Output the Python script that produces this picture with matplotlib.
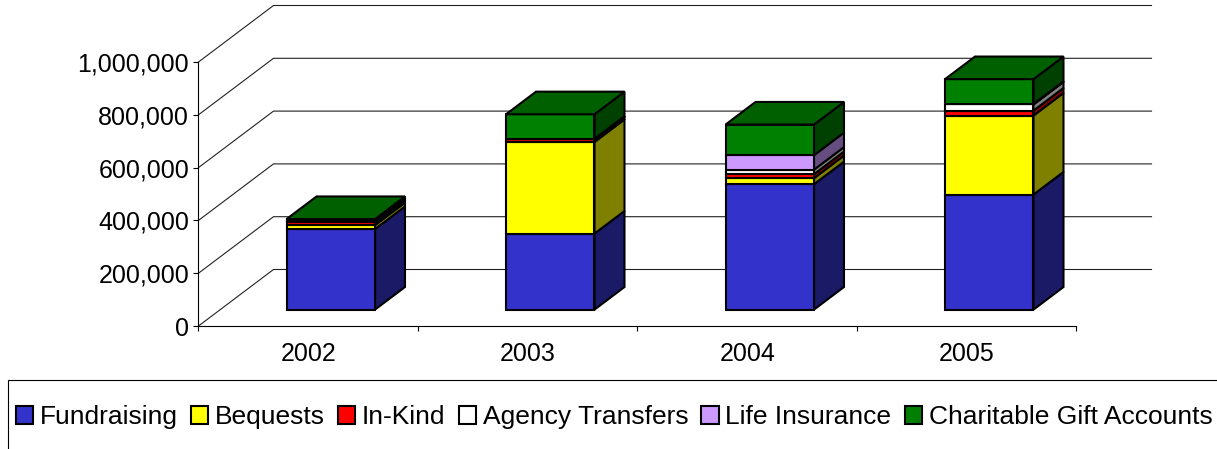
import matplotlib
matplotlib.use('Agg')
import matplotlib.pyplot as plt
from matplotlib.patches import Polygon, Rectangle, Patch

plt.rcParams['font.family'] = ['Liberation Sans', 'DejaVu Sans']

# Data
years = ['2002', '2003', '2004', '2005']
series_names = ['Fundraising', 'Bequests', 'In-Kind', 'Agency Transfers',
                'Life Insurance', 'Charitable Gift Accounts']
fundraising = [305000, 288000, 475000, 436000]
bequests = [15000, 347000, 23000, 299000]
in_kind = [10000, 10000, 15000, 19000]
agency_transfers = [5000, 1000, 17000, 23000]
life_insurance = [1000, 1000, 55000, 2000]
gift_accounts = [7000, 93000, 116000, 94000]
y_ticks = [0, 200000, 400000, 600000, 800000, 1000000]

series = [fundraising, bequests, in_kind, agency_transfers, life_insurance, gift_accounts]
front_colors = ['#3333CC', '#FFFF00', '#FF0000', '#FFFFFF', '#CC99FF', '#008000']
side_colors = ['#1A1A66', '#808000', '#800000', '#808080', '#664D80', '#004000']
top_color = '#006000'

# Layout of the fake 3D box, in pixels of the 1217x449 picture
W, H = 1217, 449
x0_px, y0_px = 198.5, 326
cat_px = 219.5
val_px = 264 / 1000000
depth_x = 75 / cat_px
depth_y = 56.5 / val_px
bar_left, bar_width = 0.302, 0.403
d_front, d_back = 0.29, 0.69


def pt(x, v, d):
    # category position, value, depth (0 front wall, 1 back wall)
    return (x + d * depth_x, v + d * depth_y)


fig = plt.figure(figsize=(W / 100, H / 100), dpi=100)
ax = fig.add_axes([0, 0, 1, 1])
ax.set_xlim(-x0_px / cat_px, (W - x0_px) / cat_px)
ax.set_ylim((y0_px - H) / val_px, y0_px / val_px)
ax.patch.set_visible(False)

# Axes lines and ticks
for side in ['top', 'right']:
    ax.spines[side].set_visible(False)
ax.spines['left'].set_position(('data', 0))
ax.spines['left'].set_bounds(0, 1000000)
ax.spines['bottom'].set_position(('data', 0))
ax.spines['bottom'].set_bounds(0, 4)
ax.set_yticks(y_ticks)
ax.set_yticklabels([f'{v:,}' for v in y_ticks])
ax.set_xticks(range(5))
ax.set_xticklabels([])
ax.set_xticks([i + 0.5 for i in range(4)], labels=years, minor=True)
ax.tick_params(axis='y', length=3.4, width=0.8, pad=3.4, labelsize=18)
ax.tick_params(axis='x', which='major', length=3.8, width=0.8)
ax.tick_params(axis='x', which='minor', length=0, pad=11.7, labelsize=18)

# Gridlines: along the back wall, then down the side wall
for v in y_ticks:
    ax.plot([0, depth_x, 4 + depth_x], [v, v + depth_y, v + depth_y],
            color='#222222', lw=0.8, zorder=1, solid_joinstyle='miter')

# Stacked bars
edge_lw = 1.5
for i in range(len(years)):
    left = i + bar_left
    right = left + bar_width
    bottom = 0
    for k, values in enumerate(series):
        top = bottom + values[i]
        ax.add_patch(Polygon([pt(right, bottom, d_front), pt(right, bottom, d_back),
                              pt(right, top, d_back), pt(right, top, d_front)],
                             facecolor=side_colors[k], edgecolor='black', lw=edge_lw,
                             joinstyle='miter', zorder=2 + k))
        ax.add_patch(Polygon([pt(left, bottom, d_front), pt(right, bottom, d_front),
                              pt(right, top, d_front), pt(left, top, d_front)],
                             facecolor=front_colors[k], edgecolor='black', lw=edge_lw,
                             joinstyle='miter', zorder=2 + k))
        bottom = top
    ax.add_patch(Polygon([pt(left, bottom, d_front), pt(right, bottom, d_front),
                          pt(right, bottom, d_back), pt(left, bottom, d_back)],
                         facecolor=top_color, edgecolor='black', lw=edge_lw,
                         joinstyle='miter', zorder=10))

# Legend box runs off the right and bottom of the picture
ax.add_patch(Rectangle((7.5 / W, -0.1), 1.1, 0.1 + (H - 379.5) / H, transform=ax.transAxes,
                       facecolor='white', edgecolor='black', lw=0.8, zorder=11))
handles = [Patch(facecolor=c, edgecolor='black', lw=edge_lw) for c in front_colors]
leg = ax.legend(handles, series_names, ncol=6, frameon=False, fontsize=19,
                loc='lower left', bbox_to_anchor=(15.5 / W, (H - 429) / H),
                borderpad=0, borderaxespad=0, handlelength=0.66, handleheight=0.66,
                handletextpad=0.25, columnspacing=0.5)
leg.set_zorder(12)

plt.savefig('out.png', dpi=100)
